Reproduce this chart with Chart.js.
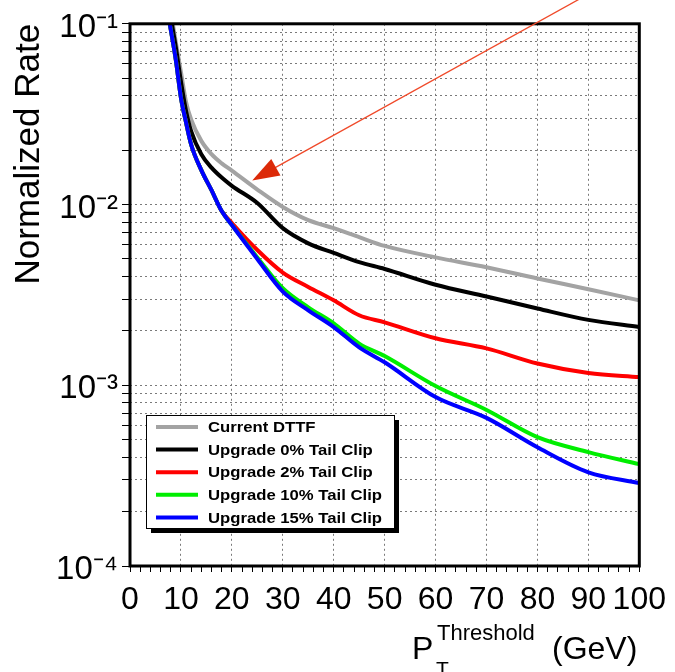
<!DOCTYPE html>
<html>
<head>
<meta charset="utf-8">
<script src="https://cdn.jsdelivr.net/npm/chart.js@4.4.1/dist/chart.umd.min.js"></script>
<style>
html,body{margin:0;padding:0;background:#fff;}
#wrap{width:675px;height:672px;position:relative;}
</style>
</head>
<body>
<div id="wrap"><canvas id="c" width="675" height="672"></canvas></div>
<script>
// ---- data ----
const thresholds = [7, 8, 9, 10, 11, 12, 14, 16, 18, 20, 25, 30, 35, 40, 45, 50, 60, 70, 80, 90, 100];
const currentDTTF = [0.171, 0.117, 0.079, 0.054, 0.037, 0.0296, 0.0225, 0.019, 0.0169, 0.0154, 0.0121, 0.0097, 0.0082, 0.0074, 0.0066, 0.0059, 0.0051, 0.0045, 0.0039, 0.0034, 0.00295];
const upgrade0 = [0.159, 0.108, 0.074, 0.048, 0.033, 0.0255, 0.019, 0.016, 0.0141, 0.0127, 0.0102, 0.0074, 0.0061, 0.0054, 0.0048, 0.0044, 0.0036, 0.0031, 0.00266, 0.0023, 0.0021];
const upgrade2 = [0.136, 0.093, 0.063, 0.039, 0.0285, 0.0215, 0.0155, 0.012, 0.0092, 0.0079, 0.0056, 0.0042, 0.0035, 0.00295, 0.00244, 0.00223, 0.00182, 0.0016, 0.00132, 0.00117, 0.00111];
const upgrade10 = [0.136, 0.093, 0.063, 0.039, 0.0285, 0.0215, 0.0155, 0.012, 0.0092, 0.0077, 0.0051, 0.00344, 0.0027, 0.0022, 0.0017, 0.00145, 0.00099, 0.00073, 0.000516, 0.000427, 0.000366];
const upgrade15 = [0.136, 0.093, 0.063, 0.039, 0.0285, 0.0215, 0.0155, 0.012, 0.0092, 0.0077, 0.0050, 0.0033, 0.0026, 0.0021, 0.00162, 0.00134, 0.00086, 0.00066, 0.000454, 0.00033, 0.000288];
const seriesLabels = ['Current DTTF', 'Upgrade 0% Tail Clip', 'Upgrade 2% Tail Clip', 'Upgrade 10% Tail Clip', 'Upgrade 15% Tail Clip'];
const xTickValues = [0, 10, 20, 30, 40, 50, 60, 70, 80, 90, 100];
const yDecades = [1e-4, 1e-3, 1e-2, 1e-1];
const yTickLabels = ['10\u207B\u2074', '10\u207B\u00B3', '10\u207B\u00B2', '10\u207B\u00B9'];
// annotation arrow (data coordinates): tip and tail
const arrowTip = {x: 24, y: 0.0136};
const arrowTail = {x: 90, y: 0.146};

const colors = ['#a3a3a3', '#000000', '#ff0000', '#00ee00', '#0000ff'];
const allSeries = [currentDTTF, upgrade0, upgrade2, upgrade10, upgrade15];

const FONT = "'Liberation Sans', Arial, Helvetica, sans-serif";

const datasets = allSeries.map((s, i) => ({
  label: seriesLabels[i],
  data: thresholds.map((x, j) => ({x: x, y: s[j]})),
  borderColor: colors[i],
  backgroundColor: colors[i],
  borderWidth: 4,
  pointRadius: 0,
  fill: false,
  cubicInterpolationMode: 'monotone',
  order: 5 - i
}));

function buildYTicks() {
  const t = [];
  for (let d = 0; d < yDecades.length; d++) {
    const base = yDecades[d];
    t.push({value: base});
    if (d < yDecades.length - 1) {
      for (let m = 2; m <= 9; m++) t.push({value: +(base * m).toPrecision(6)});
    }
  }
  return t;
}
function isDecade(v) {
  const l = Math.log10(v);
  return Math.abs(l - Math.round(l)) < 1e-6;
}

const framePlugin = {
  id: 'frame',
  afterDatasetsDraw(chart) {
    const {ctx, chartArea: a} = chart;
    ctx.save();
    ctx.strokeStyle = '#000';
    ctx.lineWidth = 3;
    ctx.strokeRect(a.left, a.top, a.right - a.left, a.bottom - a.top);
    ctx.restore();
  }
};

const arrowPlugin = {
  id: 'arrow',
  afterDatasetsDraw(chart) {
    const {ctx} = chart;
    const xs = chart.scales.x, ys = chart.scales.y;
    const tx = xs.getPixelForValue(arrowTip.x), ty = ys.getPixelForValue(arrowTip.y);
    const ex = xs.getPixelForValue(arrowTail.x), ey = ys.getPixelForValue(arrowTail.y);
    const dx = ex - tx, dy = ey - ty, len = Math.hypot(dx, dy);
    const ux = dx / len, uy = dy / len;
    const hl = 27, hw = 9.5;
    ctx.save();
    ctx.strokeStyle = '#f04a2a';
    ctx.lineWidth = 1.3;
    ctx.beginPath();
    ctx.moveTo(tx + ux * hl * 0.8, ty + uy * hl * 0.8);
    ctx.lineTo(ex, ey);
    ctx.stroke();
    ctx.fillStyle = '#dc2a08';
    const bx = tx + ux * hl, by = ty + uy * hl;
    ctx.beginPath();
    ctx.moveTo(tx, ty);
    ctx.lineTo(bx - uy * hw, by + ux * hw);
    ctx.lineTo(bx + uy * hw, by - ux * hw);
    ctx.closePath();
    ctx.fill();
    ctx.restore();
  }
};

const legendPlugin = {
  id: 'boxLegend',
  afterDraw(chart) {
    const {ctx, chartArea: a} = chart;
    const x0 = a.left + 16, y0 = a.bottom - 151, w = 248, h = 113;
    ctx.save();
    ctx.fillStyle = '#000';
    ctx.fillRect(x0 + 5, y0 + 5, w, h);
    ctx.fillStyle = '#fff';
    ctx.fillRect(x0, y0, w, h);
    ctx.strokeStyle = '#000';
    ctx.lineWidth = 1;
    ctx.strokeRect(x0 + 0.5, y0 + 0.5, w, h);
    ctx.font = 'bold 15px ' + FONT;
    ctx.textBaseline = 'middle';
    ctx.textAlign = 'left';
    const longest = Math.max(...chart.data.datasets.map(d => ctx.measureText(d.label).width));
    const sx = 174 / longest;
    chart.data.datasets.forEach((ds, i) => {
      const yy = y0 + 12 + i * 22.6;
      ctx.strokeStyle = ds.borderColor;
      ctx.lineWidth = 4;
      ctx.beginPath();
      ctx.moveTo(x0 + 10, yy);
      ctx.lineTo(x0 + 52, yy);
      ctx.stroke();
      ctx.fillStyle = '#000';
      ctx.save();
      ctx.translate(x0 + 62, yy + 1);
      ctx.scale(sx, 1);
      ctx.fillText(ds.label, 0, 0);
      ctx.restore();
    });
    ctx.restore();
  }
};

const xTitlePlugin = {
  id: 'xTitle',
  afterDraw(chart) {
    const {ctx} = chart;
    ctx.save();
    ctx.fillStyle = '#000';
    ctx.textAlign = 'left';
    ctx.textBaseline = 'alphabetic';
    ctx.font = '32px ' + FONT;
    ctx.fillText('P', 412, 659);
    ctx.font = '21px ' + FONT;
    ctx.fillText('T', 436, 676);
    ctx.font = '22px ' + FONT;
    ctx.fillText('Threshold', 437, 640);
    ctx.font = '32px ' + FONT;
    ctx.fillText('(GeV)', 552, 659);
    ctx.restore();
  }
};

new Chart(document.getElementById('c'), {
  type: 'line',
  data: {datasets},
  options: {
    responsive: false,
    animation: false,
    events: [],
    layout: {padding: {top: 23, right: 33, left: 0, bottom: 0}},
    plugins: {legend: {display: false}, tooltip: {enabled: false}},
    scales: {
      x: {
        type: 'linear',
        min: 0, max: 100,
        afterFit(s) { s.height = 106; },
        afterBuildTicks(s) {
          const t = [];
          for (let v = 0; v <= 100; v += 2) t.push({value: v});
          s.ticks = t;
        },
        ticks: {
          autoSkip: false, maxRotation: 0, padding: 9,
          color: '#000',
          font: {family: FONT, size: 32},
          callback: (v) => xTickValues.includes(v) ? String(v) : ''
        },
        grid: {
          color: (c) => (c.tick && xTickValues.includes(c.tick.value)) ? '#7a7a7a' : 'rgba(0,0,0,0)',
          lineWidth: 1,
          borderDash: [2, 3],
          drawTicks: true,
          tickLength: 6,
          tickColor: '#000',
          tickWidth: 1,
          tickBorderDash: []
        },
        border: {display: false, dash: [2, 3]}
      },
      y: {
        type: 'logarithmic',
        min: 1e-4, max: 1e-1,
        afterFit(s) { s.width = 130; },
        afterBuildTicks(s) { s.ticks = buildYTicks(); },
        ticks: {
          autoSkip: false, padding: 4, labelOffset: 4,
          color: '#000',
          font: {family: FONT, size: 33},
          callback: (v) => {
            if (!isDecade(v)) return '';
            const idx = yDecades.findIndex(d => Math.abs(Math.log10(d) - Math.log10(v)) < 1e-6);
            return idx >= 0 ? yTickLabels[idx] : '';
          }
        },
        grid: {
          color: '#7a7a7a',
          lineWidth: 1,
          borderDash: [2, 3],
          drawTicks: true,
          tickLength: 8,
          tickColor: '#000',
          tickWidth: 1,
          tickBorderDash: []
        },
        border: {display: false, dash: [2, 3]},
        title: {
          display: true,
          text: 'Normalized Rate',
          align: 'end',
          color: '#000',
          font: {family: FONT, size: 35},
          padding: {top: 8, bottom: 0}
        }
      }
    }
  },
  plugins: [framePlugin, arrowPlugin, legendPlugin, xTitlePlugin]
});
</script>
</body>
</html>
